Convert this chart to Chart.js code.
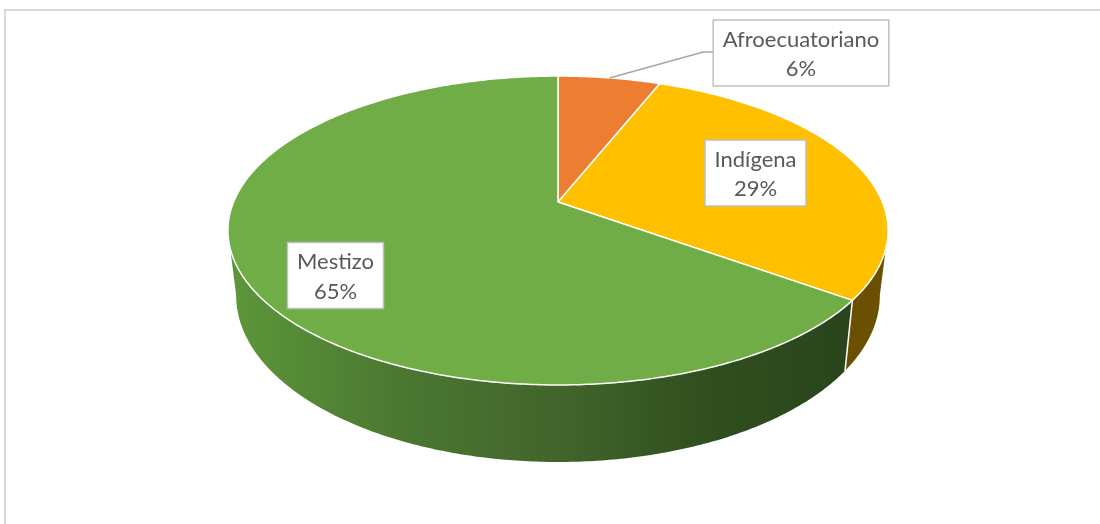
<!DOCTYPE html>
<html>
<head>
<meta charset="utf-8">
<script src="https://cdn.jsdelivr.net/npm/chart.js@4.4.1/dist/chart.umd.min.js"></script>
<style>
  html, body { margin: 0; padding: 0; background: #fff; overflow: hidden; }
  canvas { display: block; }
</style>
</head>
<body>
<canvas id="pie" width="1100" height="524"></canvas>
<script>
// Población por autoidentificación étnica
const categories = ['Afroecuatoriano', 'Indígena', 'Mestizo'];
const shares = [6, 29, 65];
const percentLabels = ['6%', '29%', '65%'];

// Styles
const topColors = ['#ED7D31', '#FFC000', '#70AD47'];
const wallColors = ['#8a4514', '#6a5000', null]; // null -> green gradient
const labelFont = '22px Lato, "Open Sans", sans-serif';
const labelColor = '#595959';
const labelCenters = [[801, 53], [755.5, 173], [335.5, 275.5]];

// Perspective of the tilted disc (relative to the pie radius)
const VIEW = { ax: 1.606, by: 0.7386, k: -0.1845, depth: 0.311, inset: 0.975 };

function project(el, ang, r) {
  const R = el.outerRadius;
  const u = r * Math.cos(ang), v = r * Math.sin(ang);
  const d = 1 + VIEW.k * v;
  return { x: el.x + VIEW.ax * R * u / d, y: el.y + VIEW.by * R * v / d, s: 1 / d };
}
function bottom(el, p) {
  const R = el.outerRadius;
  return { x: el.x + (p.x - el.x) * VIEW.inset, y: p.y + VIEW.depth * R * p.s };
}
function arcPoints(el, a0, a1) {
  const pts = [];
  const n = Math.max(2, Math.ceil(Math.abs(a1 - a0) / 0.01));
  for (let i = 0; i <= n; i++) pts.push(project(el, a0 + (a1 - a0) * i / n, 1));
  return pts;
}

const pie3d = {
  id: 'pie3d',
  beforeDraw(chart) {
    const ctx = chart.ctx;
    ctx.save();
    ctx.strokeStyle = '#d9d9d9';
    ctx.lineWidth = 2;
    ctx.strokeRect(5, 10, 1200, 1000);
    ctx.restore();
  },
  beforeDatasetsDraw(chart) {
    const ctx = chart.ctx;
    const arcs = chart.getDatasetMeta(0).data;
    const el0 = arcs[0];
    const vs = Math.asin(-VIEW.k);
    const vis0 = vs, vis1 = Math.PI - vs;

    // green wall gradient
    const gl = project(el0, Math.PI, 1).x, gr = project(el0, 0, 1).x;
    const grad = ctx.createLinearGradient(gl, 0, gr, 0);
    grad.addColorStop(0, '#5c963a');
    grad.addColorStop(0.26, '#4b7731');
    grad.addColorStop(0.5, '#41652b');
    grad.addColorStop(0.72, '#30501f');
    grad.addColorStop(1, '#28421b');

    ctx.save();
    ctx.lineJoin = 'round';
    // side walls
    arcs.forEach((el, i) => {
      const a0 = Math.max(el.startAngle, vis0), a1 = Math.min(el.endAngle, vis1);
      if (a0 >= a1) return;
      const top = arcPoints(el, a0, a1);
      const bot = top.map(p => bottom(el, p)).reverse();
      ctx.beginPath();
      top.concat(bot).forEach((p, j) => j ? ctx.lineTo(p.x, p.y) : ctx.moveTo(p.x, p.y));
      ctx.closePath();
      ctx.fillStyle = wallColors[i] || grad;
      ctx.fill();
    });
    // wall seams
    ctx.strokeStyle = '#ffffff';
    ctx.lineWidth = 1.5;
    arcs.forEach(el => {
      const aa = ((el.startAngle % (2 * Math.PI)) + 2 * Math.PI) % (2 * Math.PI);
      if (aa > vis0 && aa < vis1) {
        const p = project(el, aa, 1), b = bottom(el, p);
        ctx.beginPath(); ctx.moveTo(p.x, p.y); ctx.lineTo(b.x, b.y); ctx.stroke();
      }
    });
    // top faces
    arcs.forEach((el, i) => {
      const pts = arcPoints(el, el.startAngle, el.endAngle);
      ctx.beginPath();
      ctx.moveTo(el.x, el.y);
      pts.forEach(p => ctx.lineTo(p.x, p.y));
      ctx.closePath();
      ctx.fillStyle = topColors[i];
      ctx.fill();
      ctx.strokeStyle = '#ffffff';
      ctx.lineWidth = 1.5;
      ctx.stroke();
    });

    // leader line for the small slice
    const a = arcs[0];
    const mid = (a.startAngle + a.endAngle) / 2;
    const tip = project(a, mid, 1);
    ctx.font = labelFont;
    const boxL = labelCenters[0][0] - ctx.measureText(categories[0]).width / 2 - 9.5;
    ctx.beginPath();
    ctx.moveTo(tip.x, tip.y);
    ctx.lineTo(boxL - 10, 52);
    ctx.lineTo(boxL, 52);
    ctx.strokeStyle = '#a6a6a6';
    ctx.lineWidth = 1.5;
    ctx.stroke();

    // data labels
    categories.forEach((name, i) => {
      const [cx, cy] = labelCenters[i];
      const w = ctx.measureText(name).width + 19;
      const h = 66;
      ctx.fillStyle = '#ffffff';
      ctx.fillRect(cx - w / 2, cy - h / 2, w, h);
      ctx.strokeStyle = '#bfbfbf';
      ctx.lineWidth = 1.5;
      ctx.strokeRect(cx - w / 2, cy - h / 2, w, h);
      ctx.fillStyle = labelColor;
      ctx.textAlign = 'center';
      ctx.textBaseline = 'middle';
      ctx.fillText(name, cx, cy - 13.5);
      ctx.fillText(percentLabels[i], cx, cy + 16);
    });
    ctx.restore();
    return false;
  }
};

new Chart(document.getElementById('pie'), {
  type: 'pie',
  data: {
    labels: categories,
    datasets: [{ data: shares, backgroundColor: topColors, borderWidth: 0, hoverOffset: 0 }]
  },
  options: {
    responsive: false,
    animation: false,
    layout: { padding: { left: 16, right: 0, top: 0, bottom: 120 } },
    plugins: { legend: { display: false }, tooltip: { enabled: false } },
    events: []
  },
  plugins: [pie3d]
});
</script>
</body>
</html>
